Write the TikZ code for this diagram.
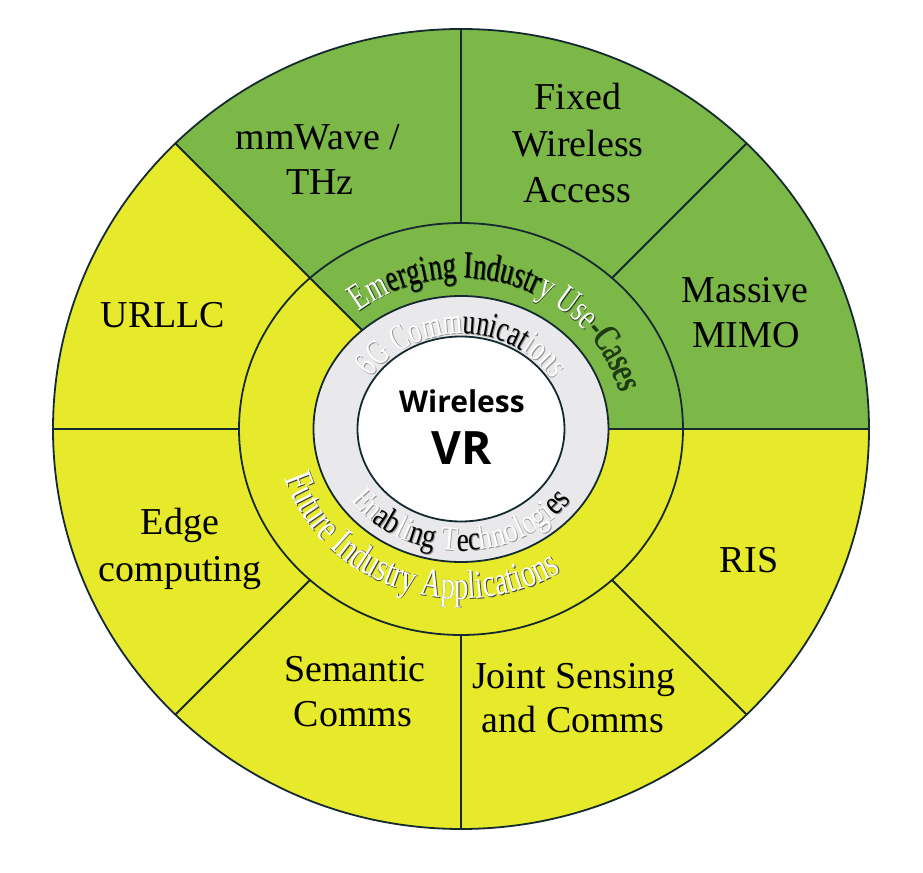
\documentclass[tikz,border=0pt]{standalone}
\usepackage{fontspec}
\setmainfont{Liberation Serif}
\newfontfamily\labelfont{Liberation Serif}
\newfontfamily\centerfont{Open Sans}
\newfontfamily\arcEm[FakeStretch=0.7]{Liberation Serif}
\newfontfamily\arcSix[FakeStretch=0.7]{Liberation Serif}
\newfontfamily\arcEn[FakeStretch=0.8]{Liberation Serif}
\newfontfamily\arcFu[FakeStretch=0.72]{Liberation Serif}
\usetikzlibrary{decorations.text}
\definecolor{ringgreen}{RGB}{124,184,71}
\definecolor{ringyellow}{RGB}{231,234,42}
\definecolor{ringgray}{RGB}{233,233,235}
\definecolor{edgec}{RGB}{20,42,48}
\definecolor{darkgreen}{RGB}{30,60,20}
\definecolor{outlgray}{RGB}{150,150,150}
\newcommand\fEm{\arcEm\fontsize{19}{22}\selectfont}
\newcommand\fSix{\arcSix\fontsize{18}{21}\selectfont}
\newcommand\fEn{\arcEn\fontsize{17}{20}\selectfont}
\newcommand\fFu{\arcFu\fontsize{20}{23}\selectfont}
\tikzset{
  lbl/.style={font=\labelfont\fontsize{19}{23}\selectfont, anchor=base, inner sep=0pt, text=black},
  sectorline/.style={draw=edgec, line width=0.9pt},
  ringline/.style={draw=edgec, line width=0.9pt},
}
\begin{document}
\begin{tikzpicture}[x=0.5pt,y=0.5pt]
\useasboundingbox (-461,-444) rectangle (462,429);
% outer disc
\fill[ringyellow] (0,0) ellipse [x radius=408, y radius=400];
\begin{scope}
  \clip (0,0) -- (700,0) -- (700,700) -- (-700,700) -- cycle;
  \fill[ringgreen] (0,0) ellipse [x radius=408, y radius=400];
\end{scope}
% sector lines
\draw[sectorline] (0,206) -- (0,400);
\draw[sectorline] (151,151) -- (285.6,285.6);
\draw[sectorline] (147.5,0) -- (408,0);
\draw[sectorline] (151,-151) -- (285.6,-285.6);
\draw[sectorline] (0,-206) -- (0,-400);
\draw[sectorline] (-151,-151) -- (-285.6,-285.6);
\draw[sectorline] (-222,0) -- (-408,0);
\draw[sectorline] (-98.8,98.8) -- (-285.6,285.6);
% ring outlines
\draw[ringline] (0,0) ellipse [x radius=408, y radius=400];
\draw[ringline] (0,0) ellipse [x radius=222, y radius=206];
\filldraw[ringline, fill=ringgray] (0,0) ellipse [x radius=147.5, y radius=133];
\filldraw[ringline, fill=white] (0,0) ellipse [x radius=103.5, y radius=92.5];

% curved texts: shadows
\begin{scope}[shift={(0.9,-0.9)}]
\path[decorate,decoration={text along path,text align=center,
  text={|\fEm\color{darkgreen}|Emerging Industry Use-Cases}}]
  ({163*cos(161)},{151*sin(161)}) arc[start angle=161,end angle=-19,x radius=163,y radius=151];
\path[decorate,decoration={text along path,text align=center,
  text={|\fSix\color{outlgray}|6G Communications}}]
  ({107*cos(179.5)},{95*sin(179.5)}) arc[start angle=179.5,end angle=-0.5,x radius=107,y radius=95];
\path[decorate,decoration={text along path,text align=center,
  text={|\fEn\color{outlgray}|Enabling Technologies}}]
  ({136*cos(180)},{122*sin(180)}) arc[start angle=180,end angle=360,x radius=136,y radius=122];
\path[decorate,decoration={text along path,text align=center,
  text={|\fFu\color{black!75}|Future Industry Applications}}]
  ({184*cos(159.5)},{170*sin(159.5)}) arc[start angle=159.5,end angle=339.5,x radius=184,y radius=170];
\end{scope}
% curved texts: main
\path[decorate,decoration={text along path,text align=center,
  text={|\fEm\color{white}|Em|\fEm\color{black}|erging Industr|\fEm\color{white}|y Use|\fEm\color{darkgreen}|-Cases}}]
  ({163*cos(161)},{151*sin(161)}) arc[start angle=161,end angle=-19,x radius=163,y radius=151];
\path[decorate,decoration={text along path,text align=center,
  text={|\fSix\color{white}|6G Comm|\fSix\color{black}|unicat|\fSix\color{white}|ions}}]
  ({107*cos(179.5)},{95*sin(179.5)}) arc[start angle=179.5,end angle=-0.5,x radius=107,y radius=95];
\path[decorate,decoration={text along path,text align=center,
  text={|\fEn\color{white}|En|\fEn\color{black}|ab|\fEn\color{white}|li|\fEn\color{black}|ng|\fEn\color{white}| T|\fEn\color{black}|ec|\fEn\color{white}|hnologi|\fEn\color{black}|es}}]
  ({136*cos(180)},{122*sin(180)}) arc[start angle=180,end angle=360,x radius=136,y radius=122];
\path[decorate,decoration={text along path,text align=center,
  text={|\fFu\color{white}|Future Industry Applications}}]
  ({184*cos(159.5)},{170*sin(159.5)}) arc[start angle=159.5,end angle=339.5,x radius=184,y radius=170];

% centre
\node[anchor=base, inner sep=0pt, font=\centerfont\bfseries\fontsize{15}{18}\selectfont] (wl) at (1,16) {Wireless};
\node[anchor=base, inner sep=0pt, font=\centerfont\bfseries\fontsize{23}{26}\selectfont] (vr) at (1,-36) {VR};

% outer labels
\node[lbl] (mm1) at (-143,279) {mmWave /};
\node[lbl] (mm2) at (-141,234) {THz};
\node[lbl] (fwa1) at (117,319) {Fixed};
\node[lbl] (fwa2) at (117,272) {Wireless};
\node[lbl] (fwa3) at (116,226) {Access};
\node[lbl] (mimo1) at (284,126) {Massive};
\node[lbl] (mimo2) at (285,81) {MIMO};
\node[lbl] (urllc) at (-298,101) {URLLC};
\node[lbl] (edge1) at (-281,-106) {Edge};
\node[lbl] (edge2) at (-281,-153) {computing};
\node[lbl] (sem1) at (-106,-253) {Semantic};
\node[lbl] (sem2) at (-108,-298) {Comms};
\node[lbl] (jsc1) at (113,-259) {Joint Sensing};
\node[lbl] (jsc2) at (112,-304) {and Comms};
\node[lbl] (ris) at (288,-144) {RIS};
\end{tikzpicture}
\end{document}
